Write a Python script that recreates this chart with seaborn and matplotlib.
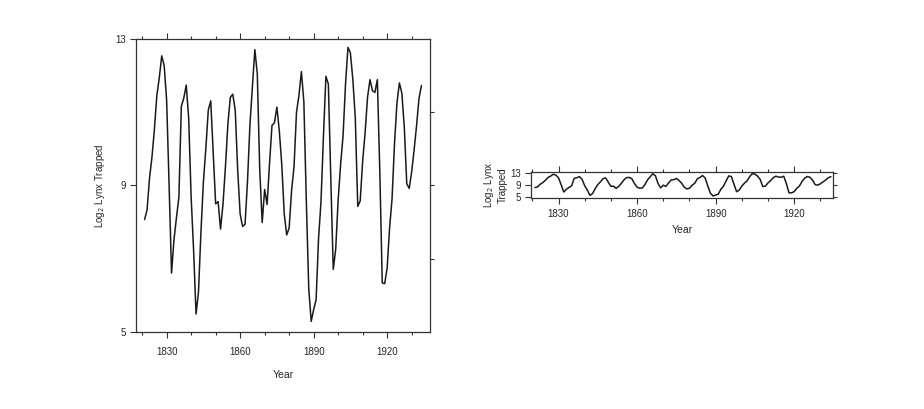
import numpy as np
import pandas as pd
import matplotlib.pyplot as plt
import seaborn as sns

# Log2 of annual Canadian lynx trappings, 1821-1934
years = list(range(1821, 1935))
log2_lynx = [
    8.07, 8.33, 9.19, 9.77, 10.53, 11.46, 11.94, 12.54, 12.27, 11.33,
    9.03, 6.61, 7.52, 8.12, 8.68, 11.16, 11.39, 11.74, 10.83, 8.68,
    7.24, 5.49, 6.09, 7.73, 9.09, 10.01, 11.06, 11.31, 9.90, 8.50,
    8.56, 7.81, 8.49, 9.51, 10.68, 11.41, 11.49, 11.05, 9.42, 8.22,
    7.88, 7.94, 9.11, 10.66, 11.69, 12.71, 12.05, 9.42, 7.99, 8.89,
    8.48, 9.61, 10.64, 10.71, 11.14, 10.48, 9.56, 8.22, 7.65, 7.84,
    8.87, 9.52, 11.00, 11.46, 12.11, 11.29, 8.60, 6.19, 5.29, 5.61,
    5.88, 7.55, 8.56, 10.34, 11.98, 11.77, 9.20, 6.71, 7.26, 8.60,
    9.57, 10.35, 11.76, 12.77, 12.62, 11.89, 10.84, 8.43, 8.58, 9.66,
    10.44, 11.41, 11.89, 11.59, 11.54, 11.89, 9.40, 6.34, 6.32, 6.75,
    7.84, 8.64, 10.14, 11.25, 11.80, 11.52, 10.59, 9.05, 8.92, 9.37,
    9.97, 10.63, 11.38, 11.73,
]
year_ticks = [1830, 1860, 1890, 1920]
minor_years = list(range(1820, 1940, 10))
y_ticks = [5, 9, 13]

df = pd.DataFrame({"Year": years, "lynx": log2_lynx})

sns.set_style("white")
plt.rcParams['font.family'] = ['Liberation Sans', 'DejaVu Sans']

fig = plt.figure(figsize=(9.24, 4.09), dpi=100)
ax1 = fig.add_axes([0.1472, 0.1883, 0.3182, 0.7164])
ax2 = fig.add_axes([0.5747, 0.5159, 0.3268, 0.0636])

line_col = '#1a1a1a'
spine_col = '#333333'

for ax in (ax1, ax2):
    sns.lineplot(data=df, x="Year", y="lynx", ax=ax, color=line_col, linewidth=1.1)
    for s in ax.spines.values():
        s.set_color(spine_col)
        s.set_linewidth(0.9)
    ax.set_xticks(year_ticks)
    ax.set_xticks(minor_years, minor=True)
    ax.tick_params(axis='x', which='major', direction='out', length=4, width=0.8,
                   top=True, bottom=True, labelsize=7, color=spine_col, pad=7)
    ax.tick_params(axis='x', which='minor', direction='out', length=2, width=0.8,
                   top=True, bottom=True, color=spine_col)
    ax.set_yticks(y_ticks)
    ax.tick_params(axis='y', which='major', direction='out', length=4, width=0.8,
                   left=True, right=False, labelsize=7, color=spine_col, pad=3)
    ax.set_xlabel("Year", fontsize=7.5)

# main panel
ax1.set_xlim(1817.5, 1937.5)
ax1.set_ylim(5, 13)
ax1.set_ylabel(r"Log$_2$ Lynx Trapped", fontsize=7, labelpad=6)
ax1.xaxis.labelpad = 9
ax1r = ax1.twinx()
ax1r.set_ylim(5, 13)
ax1r.set_yticks([7, 9, 11])
ax1r.tick_params(axis='y', direction='out', length=3, width=0.8, labelright=False,
                 color=spine_col)
for s in ax1r.spines.values():
    s.set_visible(False)

# banked panel
ax2.set_xlim(1819.5, 1934.8)
ax2.set_ylim(4.6, 13.3)
ax2.tick_params(axis='x', which='major', pad=4)
ax2.set_ylabel("Log$_2$ Lynx\nTrapped", fontsize=7, labelpad=2)
ax2.xaxis.labelpad = 4
ax2r = ax2.twinx()
ax2r.set_ylim(4.6, 13.3)
ax2r.set_yticks(y_ticks)
ax2r.tick_params(axis='y', direction='out', length=3, width=0.8, labelright=False,
                 color=spine_col)
for s in ax2r.spines.values():
    s.set_visible(False)

fig.savefig("out.png", dpi=100)
